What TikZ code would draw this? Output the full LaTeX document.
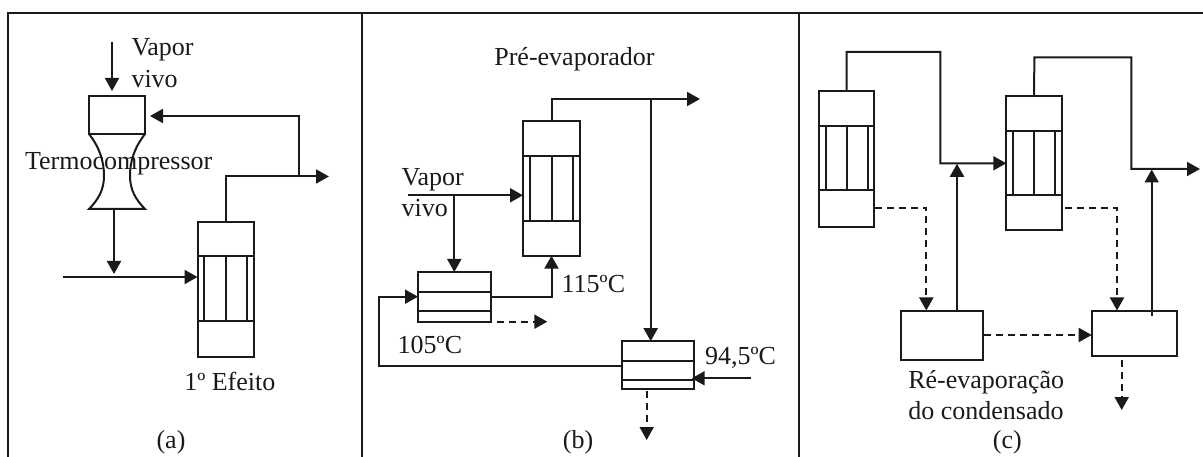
\documentclass[tikz,border=0pt]{standalone}
\usepackage{fontspec}
\setmainfont{Liberation Serif}
\usetikzlibrary{arrows.meta}
\definecolor{ink}{HTML}{1A1A1A}
\tikzset{
  ln/.style={draw=ink,line width=2pt},
  arr/.style={ln,-{Triangle[length=13pt,width=14pt]}},
  dsh/.style={arr,dash pattern=on 7pt off 5pt},
  eq/.style={ln,inner sep=0pt,outer sep=0pt,fill=none},
  lbl/.style={anchor=base west,inner sep=0pt,outer sep=0pt,text=ink,font=\fontsize{26}{30}\selectfont},
  clbl/.style={lbl,anchor=base},
}
\newcommand{\eqbox}[5]{\node[eq,minimum width=#4-#2,minimum height=#5-#3] (#1) at ({(#2+#4)/2},{(#3+#5)/2}) {};}
% name x1 y1 x2 y2 div1 div2 tube1 tube2 tube3
\newcommand{\tubes}[9]{\draw[ln] (#2,#6) -- (#4,#6) (#2,#7) -- (#4,#7);
  \draw[ln] (#8,#6) -- (#8,#7) (#9,#6) -- (#9,#7);}
\begin{document}
\begin{tikzpicture}[x=1pt,y=-1pt]
\useasboundingbox (0,0) rectangle (1203,457);
\begin{scope}
\clip (0,0) rectangle (1203,457);
% frame
\coordinate (fTL) at (8,13.5); \coordinate (fTR) at (1204,13.5);
\coordinate (fBL) at (8,458);
\coordinate (d1t) at (361.5,13.5); \coordinate (d1b) at (361.5,458);
\coordinate (d2t) at (799,13.5); \coordinate (d2b) at (799,458);
\draw[ln] (fBL) -- (fTL) -- (fTR);
\draw[ln] (d1t) -- (d1b);
\draw[ln] (d2t) -- (d2b);

% ---------- (a)
\eqbox{tc}{89}{96.5}{145}{134}
\coordinate (tcbl) at (89,209); \coordinate (tcbr) at (145,209);
\draw[ln] (tc.south west) .. controls (100,148) and (104,162) .. (104,176)
   .. controls (104,190) and (98,200) .. (tcbl) -- (tcbr)
   .. controls (136,200) and (130,190) .. (130,176)
   .. controls (130,162) and (134,148) .. (tc.south east);
\coordinate (vva) at (112,42); \coordinate (vvb) at (112,91);
\draw[arr] (vva) -- (vvb);
\coordinate (tco) at (114,209); \coordinate (mix) at (114,274);
\draw[arr] (tco) -- (mix);
\eqbox{ea}{197.5}{222}{253.5}{356.5}
\tubes{ea}{197.5}{222}{253.5}{356.5}{256}{321}{204}{246.5}
\draw[ln] (225.5,256) -- (225.5,321);
\coordinate (feed) at (62.5,277);
\draw[arr] (feed) -- (ea.west |- feed);
\coordinate (oa) at (329,176.5); \coordinate (ba) at (298.5,176.5);
\draw[arr] (ea.north) |- (oa);
\coordinate (ra) at (150,116);
\draw[arr] (ba) |- (ra);
\node[lbl] (t1) at (131.5,56) {Vapor};
\node[lbl] (t2) at (131.5,87.3) {vivo};
\node[lbl] (t3) at (25,170) {Termocompressor};
\node[lbl] (t4) at (184.3,390.7) {1º Efeito};
\node[clbl] (t5) at (171,448) {(a)};

% ---------- (b)
\eqbox{eb}{523}{120.7}{580}{255.7}
\tubes{eb}{523}{120.7}{580}{255.7}{155.7}{221}{530.3}{572.7}
\draw[ln] (552.3,155.7) -- (552.3,221);
\coordinate (ob) at (700,99); \coordinate (bb) at (650.7,99);
\draw[arr] (eb.north) |- (ob);
\eqbox{hb}{418}{272}{491.3}{321.7}
\draw[ln] (418,291.7) -- (491.3,291.7) (418,311.3) -- (491.3,311.3);
\eqbox{hc}{622}{341.2}{694.3}{389.3}
\draw[ln] (622,360.7) -- (694.3,360.7) (622,380.3) -- (694.3,380.3);
\coordinate (vb) at (407.7,195.3); \coordinate (vbb) at (454.3,195.3);
\draw[arr] (vb) -- (eb.west |- vb);
\draw[arr] (vbb) -- (hb.north -| vbb);
\draw[arr] (bb) -- (hc.north -| bb);
\coordinate (hbo) at (491.3,297.3);
\draw[arr] (hbo) -| (eb.south);
\coordinate (hbd) at (497.3,321.7); \coordinate (hbe) at (547.3,321.7);
\draw[dsh] (hbd) -- (hbe);
\coordinate (hco) at (622,366); \coordinate (lp1) at (379.3,366); \coordinate (lp2) at (379.3,296.7);
\draw[arr] (hco) -- (lp1) -- (lp2) -- (hb.west |- lp2);
\coordinate (hci) at (750.7,378.3); \coordinate (hcj) at (691.7,378.3);
\draw[arr] (hci) -- (hcj);
\coordinate (hcd) at (646.7,390.5); \coordinate (hce) at (646.7,440);
\draw[dsh] (hcd) -- (hce);
\node[clbl] (t6) at (574.5,65.5) {Pré-evaporador};
\node[lbl] (t7) at (401.7,185.7) {Vapor};
\node[lbl] (t8) at (401.7,216.7) {vivo};
\node[lbl] (t9) at (561.7,292.7) {115ºC};
\node[lbl] (t10) at (397.7,353.3) {105ºC};
\node[lbl] (t11) at (705,364) {94,5ºC};
\node[clbl] (t12) at (578,448) {(b)};

% ---------- (c)
\eqbox{c1}{818.7}{90.7}{874.3}{226.7}
\tubes{c1}{818.7}{90.7}{874.3}{226.7}{126}{190.3}{826}{867.7}
\draw[ln] (846.7,126) -- (846.7,190.3);
\eqbox{c2}{1006.3}{96}{1062}{230.3}
\tubes{c2}{1006.3}{96}{1062}{230.3}{130.7}{195.3}{1013.3}{1055.3}
\draw[ln] (1034.3,130.7) -- (1034.3,195.3);
\eqbox{r1}{901}{311.3}{982.7}{360}
\eqbox{r2}{1091.7}{311.3}{1176.7}{356}
\coordinate (p1) at (846.7,52); \coordinate (p2) at (940.3,52); \coordinate (p3) at (940.3,163.3);
\draw[arr] (c1.north) -- (p1) -- (p2) -- (p3) -- (c2.west |- p3);
\coordinate (q1) at (1034.3,57.3); \coordinate (q2) at (1131.3,57.3); \coordinate (q3) at (1131.3,169); \coordinate (q4) at (1200,169);
\draw[arr] (c2.north) -- (q1) -- (q2) -- (q3) -- (q4);
\coordinate (u1) at (957,163.8);
\draw[arr] (r1.north -| u1) -- (u1);
\coordinate (u2b) at (1151.7,316); \coordinate (u2) at (1151.7,169.5);
\draw[arr] (u2b) -- (u2);
\coordinate (d1s) at (875,207.7); \coordinate (d1m) at (926.3,207.7); \coordinate (d1e) at (926.3,310.5);
\draw[dsh] (d1s) -- (d1m) -- (d1e);
\coordinate (d2s) at (1065,207.7); \coordinate (d2m) at (1117,207.7); \coordinate (d2e) at (1117,310.5);
\draw[dsh] (d2s) -- (d2m) -- (d2e);
\coordinate (d3s) at (983.5,335); 
\draw[dsh] (d3s) -- (r2.west |- d3s);
\coordinate (d4s) at (1121.7,360); \coordinate (d4e) at (1121.7,410);
\draw[dsh] (d4s) -- (d4e);
\node[lbl] (t13) at (908.3,388.3) {Ré-evaporação};
\node[lbl] (t14) at (908.3,419.3) {do condensado};
\node[clbl] (t15) at (1007.3,448) {(c)};
\end{scope}
\end{tikzpicture}
\end{document}
